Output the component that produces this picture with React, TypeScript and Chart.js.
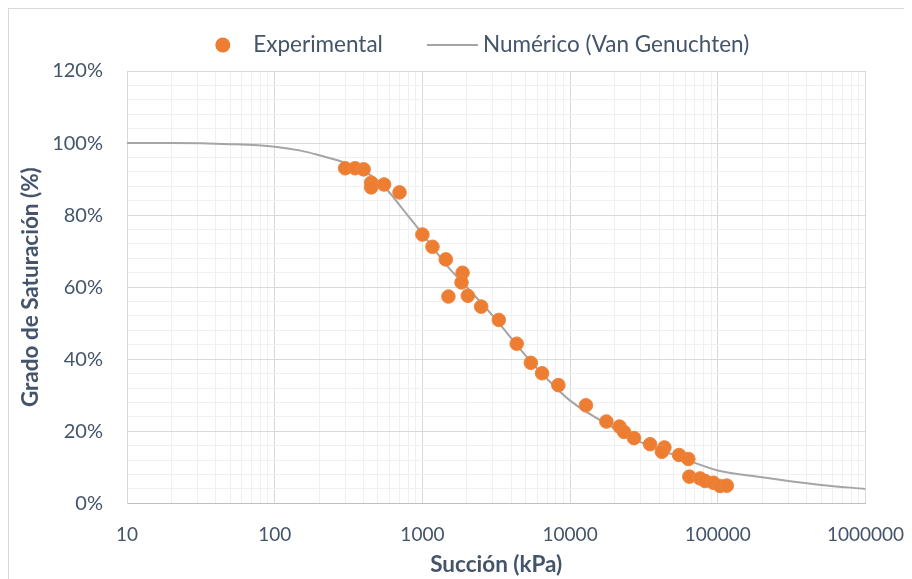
import React, { useEffect, useRef } from "react";
import { Chart, registerables } from "chart.js";

Chart.register(...registerables);

// Experimental points (suction kPa, saturation %)
const expSuction = [300, 350, 400, 450, 450, 550, 700, 1000, 1170, 1440, 1870, 1840, 1500, 2030, 2500, 3290, 4350, 5420, 6460, 8330, 12800, 17600, 21600, 23200, 27100, 34800, 43500, 41800, 54700, 63200, 64200, 75900, 82000, 93400, 103700, 115000];
const expSaturation = [93.0, 93.0, 92.7, 89.0, 87.7, 88.5, 86.3, 74.6, 71.2, 67.7, 64.0, 61.3, 57.4, 57.6, 54.6, 50.9, 44.3, 39.0, 36.1, 32.8, 27.2, 22.7, 21.3, 19.8, 18.1, 16.4, 15.5, 14.3, 13.4, 12.3, 7.4, 6.9, 6.2, 5.7, 4.8, 4.9];

// Van Genuchten curve
const vgSuction = [10, 20, 50, 100, 150, 200, 300, 400, 500, 600, 700, 800, 1000, 1500, 2000, 3000, 5000, 7000, 10000, 20000, 30000, 50000, 100000, 200000, 300000, 500000, 1000000];
const vgSaturation = [100, 100, 99.7, 99.0, 97.9, 96.6, 94.5, 92.3, 89.5, 86.2, 82.8, 79.8, 74.8, 65.5, 60.0, 52.0, 41.0, 34.5, 28.5, 20.8, 17.0, 13.5, 9.1, 7.2, 6.2, 5.1, 4.0];

const xMajorTicks = [10, 100, 1000, 10000, 100000, 1000000];
const yMajorStep = 20;
const yMinorStep = 4;

const seriesNames = ["Experimental", "Numérico (Van Genuchten)"];

const TEXT = "#44546A";
const ORANGE = "#ED7D31";
const GRAY = "#A5A5A5";
const MAJOR_GRID = "#D9D9D9";
const MINOR_GRID = "#F0F0F0";
const FONT = "Lato";

const legendPlugin = {
  id: "customLegend",
  afterDraw(chart: any) {
    const ctx = chart.ctx;
    const ca = chart.chartArea;
    ctx.save();
    ctx.font = `22.5px ${FONT}`;
    const w1 = ctx.measureText(seriesNames[0]).width;
    const w2 = ctx.measureText(seriesNames[1]).width;
    const r = 7.5;
    const gapMarker = 23;
    const gapItems = 44;
    const lineW = 51;
    const gapLine = 5;
    const total = 2 * r + gapMarker + w1 + gapItems + lineW + gapLine + w2;
    const cx = (ca.left + ca.right) / 2 - 14;
    const y = ca.top - 26;
    let x = cx - total / 2;
    ctx.fillStyle = ORANGE;
    ctx.beginPath();
    ctx.arc(x + r, y, r, 0, Math.PI * 2);
    ctx.fill();
    x += 2 * r + gapMarker;
    ctx.fillStyle = TEXT;
    ctx.textBaseline = "middle";
    ctx.textAlign = "left";
    ctx.fillText(seriesNames[0], x, y);
    x += w1 + gapItems;
    ctx.strokeStyle = GRAY;
    ctx.lineWidth = 2;
    ctx.beginPath();
    ctx.moveTo(x, y);
    ctx.lineTo(x + lineW, y);
    ctx.stroke();
    x += lineW + gapLine;
    ctx.fillText(seriesNames[1], x, y);
    ctx.restore();
  },
};

export default function App() {
  const ref = useRef<HTMLCanvasElement>(null);
  useEffect(() => {
    Chart.defaults.font.family = FONT;
    const allXTicks: number[] = [];
    for (let e = 1; e < 6; e++) {
      for (let m = 1; m < 10; m++) allXTicks.push(m * Math.pow(10, e));
    }
    allXTicks.push(1000000);
    const majorSet = new Set(xMajorTicks);

    const chart = new Chart(ref.current!, {
      type: "scatter",
      data: {
        datasets: [
          {
            label: seriesNames[0],
            data: expSuction.map((x, i) => ({ x, y: expSaturation[i] })),
            backgroundColor: ORANGE,
            borderColor: "#EF8640",
            borderWidth: 1,
            pointRadius: 6.8,
            showLine: false,
          },
          {
            label: seriesNames[1],
            data: vgSuction.map((x, i) => ({ x, y: vgSaturation[i] })),
            borderColor: GRAY,
            backgroundColor: GRAY,
            borderWidth: 2,
            pointRadius: 0,
            showLine: true,
            cubicInterpolationMode: "monotone",
          } as any,
        ],
      },
      plugins: [legendPlugin],
      options: {
        animation: false,
        responsive: true,
        maintainAspectRatio: false,
        layout: { padding: { top: 62, right: 46.5, left: 0, bottom: 0 } },
        plugins: {
          legend: { display: false },
          tooltip: { enabled: false },
        },
        scales: {
          x: {
            type: "logarithmic",
            min: 10,
            max: 1000000,
            afterBuildTicks: (scale: any) => {
              scale.ticks = allXTicks.map((v) => ({ value: v, major: majorSet.has(v) }));
            },
            afterFit: (scale: any) => {
              scale.height = 75.7;
              scale.paddingLeft = 0;
              scale.paddingRight = 0;
            },
            ticks: {
              autoSkip: false,
              maxRotation: 0,
              padding: 20,
              color: TEXT,
              font: { size: 19 },
              callback: (v: any) => (majorSet.has(Number(v)) ? String(v) : ""),
            },
            grid: {
              drawTicks: false,
              color: (c: any) => (c.tick && majorSet.has(c.tick.value) ? MAJOR_GRID : MINOR_GRID),
            },
            border: { color: "#BFBFBF" },
            title: {
              display: true,
              text: "Succión (kPa)",
              color: TEXT,
              font: { size: 22.5, weight: "bold" },
              padding: { top: 0, bottom: 0.5 },
            },
          } as any,
          y: {
            min: 0,
            max: 120,
            afterFit: (scale: any) => {
              scale.width = 118;
              scale.paddingTop = 0;
              scale.paddingBottom = 0;
            },
            ticks: {
              stepSize: yMinorStep,
              autoSkip: false,
              padding: 24,
              color: TEXT,
              font: { size: 20 },
              callback: (v: any) => (Number(v) % yMajorStep === 0 ? `${v}%` : ""),
            },
            grid: {
              drawTicks: false,
              color: (c: any) => (c.tick && c.tick.value % yMajorStep === 0 ? MAJOR_GRID : MINOR_GRID),
            },
            border: { color: MAJOR_GRID },
            title: {
              display: true,
              text: "Grado de Saturación (%)",
              color: TEXT,
              font: { size: 22.5, weight: "bold" },
              padding: { top: 8.5, bottom: 0 },
            },
          } as any,
        },
      },
    });
    return () => chart.destroy();
  }, []);

  return (
    <div
      style={{
        width: 904,
        height: 571,
        boxSizing: "border-box",
        borderLeft: "1px solid #D9D9D9",
        borderTop: "1px solid #D9D9D9",
        position: "relative",
        background: "#fff",
      }}
    >
      <canvas ref={ref} />
    </div>
  );
}
